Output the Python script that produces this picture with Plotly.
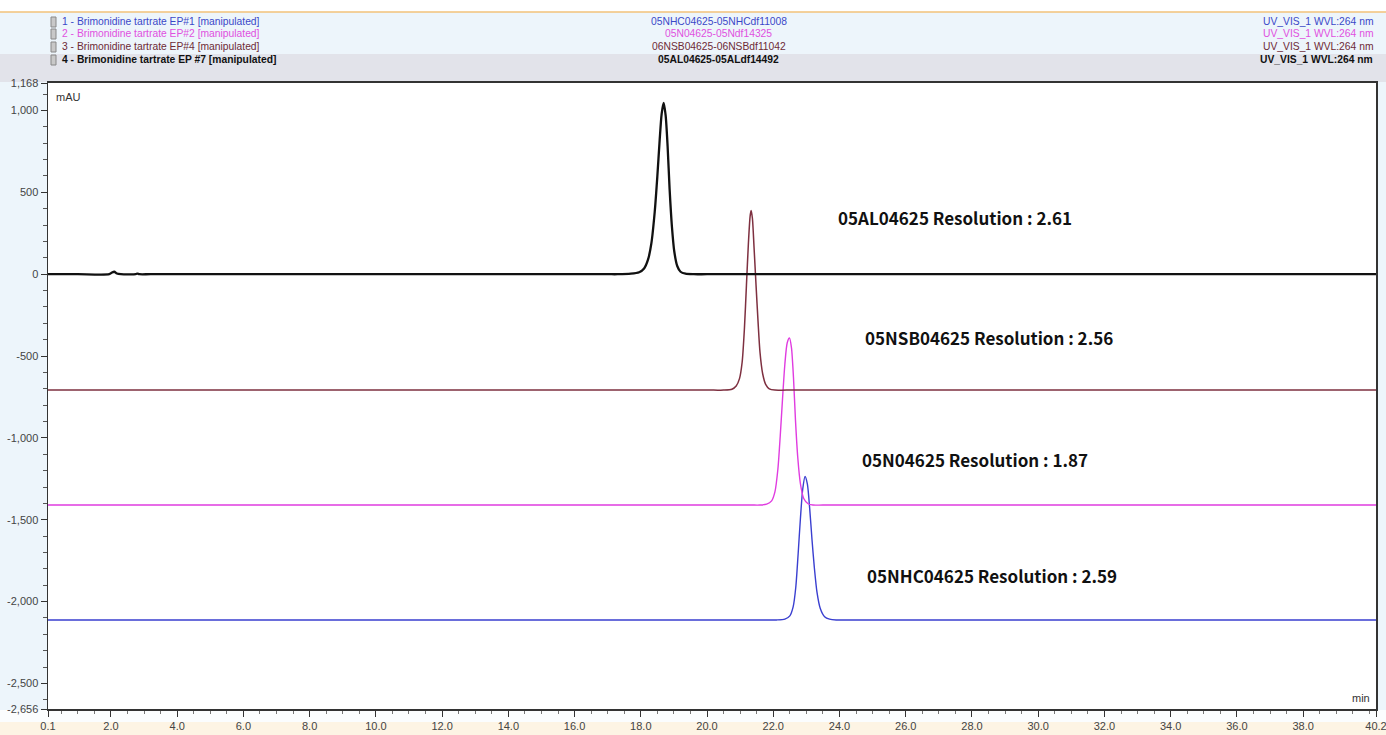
import plotly.graph_objects as go

# ---------------- data ----------------
# retention time (min) and signal above each trace's own baseline (mAU)
t_ep7 = [0.1, 1.0, 1.95, 2.03, 2.1, 2.18, 2.3, 2.75, 2.8, 2.86, 3.2, 10.0, 17.0, 17.3, 17.7, 17.95, 18.1,
         18.22, 18.32, 18.42, 18.5, 18.57, 18.63, 18.69, 18.75, 18.81, 18.87, 18.94, 19.01, 19.1, 19.2,
         19.35, 19.6, 20.0, 30.0, 40.2]
h_ep7 = [0, 0, 0, 10, 15, 4, 0, 0, 4, 0, 0, 0, 0, 0, 3, 12, 35,
         90, 190, 380, 600, 820, 980, 1046, 970, 780, 520, 290, 140, 50, 15,
         3, 0, 0, 0, 0]

t_ep4 = [0.1, 10.0, 20.2, 20.5, 20.75, 20.88, 20.98, 21.06, 21.13, 21.19, 21.25, 21.3, 21.33, 21.37, 21.42,
         21.48, 21.54, 21.6, 21.68, 21.77, 21.88, 22.05, 22.4, 30.0, 40.2]
h_ep4 = [0, 0, 0, 0, 5, 25, 70, 170, 380, 640, 900, 1060, 1097, 1050, 870,
         640, 420, 230, 100, 35, 8, 0, 0, 0, 0]

t_ep2 = [0.1, 10.0, 21.3, 21.6, 21.8, 21.95, 22.05, 22.14, 22.21, 22.28, 22.35, 22.42, 22.49, 22.55, 22.61,
         22.67, 22.74, 22.82, 22.92, 23.05, 23.2, 23.5, 30.0, 40.2]
h_ep2 = [0, 0, 0, 0, 5, 25, 80, 220, 420, 650, 860, 990, 1020, 960, 780,
         520, 290, 130, 40, 8, 0, 0, 0, 0]

t_ep1 = [0.1, 10.0, 21.8, 22.1, 22.35, 22.5, 22.6, 22.68, 22.75, 22.82, 22.89, 22.96, 23.03, 23.1, 23.17,
         23.24, 23.32, 23.42, 23.55, 23.7, 23.9, 24.2, 30.0, 40.2]
h_ep1 = [0, 0, 0, 0, 5, 25, 80, 200, 400, 620, 800, 876, 830, 680, 490,
         320, 170, 70, 20, 5, 0, 0, 0, 0]

# display offsets of each chromatogram (mAU)
offsets = {"ep7": 0, "ep4": -708, "ep2": -1410, "ep1": -2112}

legend_names = ["1 - Brimonidine tartrate EP#1 [manipulated]",
                "2 - Brimonidine tartrate EP#2 [manipulated]",
                "3 - Brimonidine tartrate EP#4 [manipulated]",
                "4 - Brimonidine tartrate EP #7 [manipulated]"]
sample_ids = ["05NHC04625-05NHCdf11008", "05N04625-05Ndf14325",
              "06NSB04625-06NSBdf11042", "05AL04625-05ALdf14492"]
channel = "UV_VIS_1 WVL:264 nm"

resolution_labels = ["05AL04625 Resolution : 2.61", "05NSB04625 Resolution : 2.56",
                     "05N04625 Resolution : 1.87", "05NHC04625 Resolution : 2.59"]

y_tickvals = [1168, 1000, 500, 0, -500, -1000, -1500, -2000, -2500, -2656]
y_ticktext = ["1,168", "1,000", "500", "0", "-500", "-1,000", "-1,500", "-2,000", "-2,500", "-2,656"]
x_tickvals = [0.1] + [2.0 * i for i in range(1, 20)] + [40.2]
x_ticktext = ["0.1"] + ["%.1f" % (2.0 * i) for i in range(1, 20)] + ["40.2"]

# ---------------- layout geometry ----------------
W, H = 1386, 735
L, R, T, B = 48, 1376, 83, 709


def px(x):
    return (x - L) / (R - L)


def py(y):
    return (B - y) / (B - T)


NARROW = "Liberation Sans Narrow, Arial Narrow, Liberation Sans, Arial"
c_blue, c_mag, c_brown, c_black = "#3a3fd0", "#e03ce0", "#7e3040", "#111111"
t_blue, t_mag, t_brown = "#3a48c8", "#e050e0", "#6e2a36"

fig = go.Figure()


def add_trace(t, h, off, color, width, name):
    fig.add_trace(go.Scatter(x=t, y=[v + off for v in h], mode="lines", name=name,
                             line=dict(color=color, width=width, shape="spline", smoothing=0.7),
                             hoverinfo="skip"))


add_trace(t_ep1, h_ep1, offsets["ep1"], c_blue, 1.4, legend_names[0])
add_trace(t_ep2, h_ep2, offsets["ep2"], c_mag, 1.4, legend_names[1])
add_trace(t_ep4, h_ep4, offsets["ep4"], c_brown, 1.5, legend_names[2])
add_trace(t_ep7, h_ep7, offsets["ep7"], c_black, 2.3, legend_names[3])

shapes = []
# header background
shapes.append(dict(type="rect", xref="paper", yref="paper", x0=px(0), x1=px(W), y0=py(12), y1=py(0),
                   fillcolor="white", line_width=0, layer="below"))
shapes.append(dict(type="line", xref="paper", yref="paper", x0=px(0), x1=px(W), y0=py(12), y1=py(12),
                   line=dict(color="#f2c27a", width=1.5)))
shapes.append(dict(type="rect", xref="paper", yref="paper", x0=px(0), x1=px(W), y0=py(82), y1=py(54),
                   fillcolor="#e2e3ea", line_width=0, layer="below"))
# bottom strip
shapes.append(dict(type="rect", xref="paper", yref="paper", x0=px(0), x1=px(W), y0=py(735), y1=py(722),
                   fillcolor="#fdf4e4", line_width=0, layer="below"))
shapes.append(dict(type="rect", xref="paper", yref="paper", x0=px(0), x1=px(W), y0=py(722), y1=py(710),
                   fillcolor="#fbfdfe", line_width=0, layer="below"))
# small legend icons
for i, yy in enumerate([22, 34, 47, 60]):
    shapes.append(dict(type="rect", xref="paper", yref="paper", x0=px(51), x1=px(56), y0=py(yy + 5),
                       y1=py(yy - 5), fillcolor="#c8c8c8", line=dict(color="#888888", width=1)))

annotations = []
row_y = [22, 34, 47, 60]
row_col = [t_blue, t_mag, t_brown, c_black]
for i in range(4):
    bold = i == 3
    fnt = dict(family=NARROW, size=10.3, color=row_col[i], weight="bold" if bold else "normal")
    annotations.append(dict(xref="paper", yref="paper", x=px(60), y=py(row_y[i]), text=legend_names[i],
                            showarrow=False, xanchor="left", yanchor="middle", font=fnt))
    annotations.append(dict(xref="paper", yref="paper", x=px(719), y=py(row_y[i]), text=sample_ids[i],
                            showarrow=False, xanchor="center", yanchor="middle", font=fnt))
    annotations.append(dict(xref="paper", yref="paper", x=px(1375), y=py(row_y[i]), text=channel,
                            showarrow=False, xanchor="right", yanchor="middle", font=fnt))

annotations.append(dict(xref="paper", yref="paper", x=px(54), y=py(97), text="mAU", showarrow=False,
                        xanchor="left", yanchor="middle", font=dict(family=NARROW, size=11, color="#333")))
annotations.append(dict(xref="paper", yref="paper", x=px(1372), y=py(698), text="min", showarrow=False,
                        xanchor="right", yanchor="middle", font=dict(family=NARROW, size=11, color="#333")))

res_pos = [(836, 218), (863, 337), (860, 459), (865, 575)]
for (x0, y0), txt in zip(res_pos, resolution_labels):
    annotations.append(dict(xref="paper", yref="paper", x=px(x0), y=py(y0), text=txt, showarrow=False,
                            xanchor="left", yanchor="middle",
                            font=dict(family="Noto Sans CJK KR, Noto Sans", size=17, color="#111",
                                      weight="bold")))

fig.update_layout(
    width=W, height=H,
    margin=dict(l=L, r=W - R, t=T, b=H - B, pad=0),
    paper_bgcolor="#edf5fb", plot_bgcolor="white",
    showlegend=False, hovermode=False,
    shapes=shapes, annotations=annotations,
    xaxis=dict(range=[0.1, 40.2], tickvals=x_tickvals, ticktext=x_ticktext, showgrid=False, zeroline=False,
               showline=True, linecolor="#333", linewidth=2, mirror=True, ticks="outside", ticklen=6,
               tickcolor="#333", tickfont=dict(family=NARROW, size=11, color="#444"),
               ticklabeloverflow="allow", automargin=False,
               minor=dict(dtick=0.5, tick0=0, ticks="outside", ticklen=3, tickcolor="#777")),
    yaxis=dict(range=[-2656, 1168], tickvals=y_tickvals, ticktext=y_ticktext, showgrid=False, zeroline=False,
               showline=True, linecolor="#333", linewidth=1.5, mirror=True, ticks="outside", ticklen=6,
               tickcolor="#333", tickfont=dict(family=NARROW, size=11, color="#444"),
               ticklabeloverflow="allow", automargin=False,
               minor=dict(dtick=100, tick0=0, ticks="outside", ticklen=4, tickcolor="#555")),
)

fig.write_html("out.html", config={"displayModeBar": False, "staticPlot": True},
               post_script="document.body.style.margin='0px';document.body.style.overflow='hidden';")
